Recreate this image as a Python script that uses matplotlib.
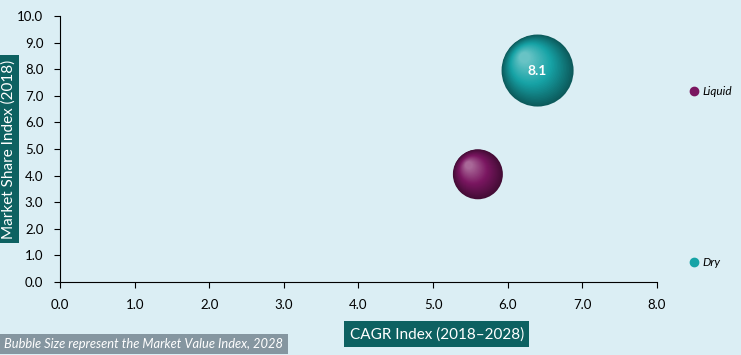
import numpy as np
import matplotlib.pyplot as plt
from matplotlib.lines import Line2D
from matplotlib.transforms import ScaledTranslation
from matplotlib.colors import to_rgb

plt.rcParams['font.family'] = ['Lato', 'DejaVu Sans']

# data
names = ['Liquid', 'Dry']
cagr = [5.6, 6.4]
share = [4.05, 7.95]
value = [3.9, 8.1]
colors = ['#7a1660', '#16a3a6']
show_label = [False, True]

bg = '#dbeef4'
fig = plt.figure(figsize=(7.41, 3.55), dpi=100, facecolor=bg)
ax = fig.add_axes([0.081, 0.2056, 0.8056, 0.7493], facecolor=bg)

k = 332  # points^2 per unit of bubble value


def shade(c, t):
    r = np.array(to_rgb(c))
    if t < 0.5:
        return r * (0.55 + 0.9 * t)
    return r + (1 - r) * (t - 0.5) * 0.7


for x, y, v, c, lab in zip(cagr, share, value, colors, show_label):
    s = v * k
    d = np.sqrt(s)  # diameter in points
    n = 30
    for i in range(n):
        t = i / (n - 1)
        frac = 1 - 0.85 * t
        off = ScaledTranslation(-0.18 * d * t / 72, 0.18 * d * t / 72, fig.dpi_scale_trans)
        ax.scatter([x], [y], s=s * frac ** 2, color=shade(c, t), edgecolors='none',
                   transform=ax.transData + off, zorder=3 + i * 0.01)
    if lab:
        ax.text(x, y, f'{v:.1f}', color='white', fontsize=10, fontweight='bold',
                ha='center', va='center', zorder=5)

ax.set_xlim(0, 8)
ax.set_ylim(0, 10)
ax.set_xticks(np.arange(0, 9, 1))
ax.set_yticks(np.arange(0, 11, 1))
ax.set_xticklabels([f'{t:.1f}' for t in range(0, 9)], fontsize=9.5)
ax.set_yticklabels([f'{t:.1f}' for t in range(0, 11)], fontsize=9.5)
ax.tick_params(direction='out', length=4, width=0.8, colors='black', pad=8)
for sp in ['top', 'right']:
    ax.spines[sp].set_visible(False)

ax.set_xlabel('CAGR Index (2018\u20132028)', fontsize=11, color='white',
              bbox=dict(facecolor='#0d6161', edgecolor='none', pad=4))
ax.xaxis.set_label_coords(0.631, -0.169)
ax.set_ylabel('Market Share Index (2018)', fontsize=11, color='white',
              bbox=dict(facecolor='#0d6161', edgecolor='none', pad=3))
ax.yaxis.set_label_coords(-0.075, 0.5)

handles = [Line2D([], [], marker='o', linestyle='none', markersize=6, color=c) for c in colors]
fig.legend(handles, names, loc='upper left', bbox_to_anchor=(0.9146, 0.787), frameon=False,
           prop=dict(size=8.5, style='italic'), handletextpad=0.2, labelspacing=13.55,
           handlelength=1)

fig.text(0.006, 0.03, 'Bubble Size represent the Market Value Index, 2028', fontsize=9.3,
         style='italic', color='white', ha='left', va='center',
         bbox=dict(facecolor='#8596a0', edgecolor='none', pad=3))

fig.savefig('out.png', dpi=100, facecolor=bg)
